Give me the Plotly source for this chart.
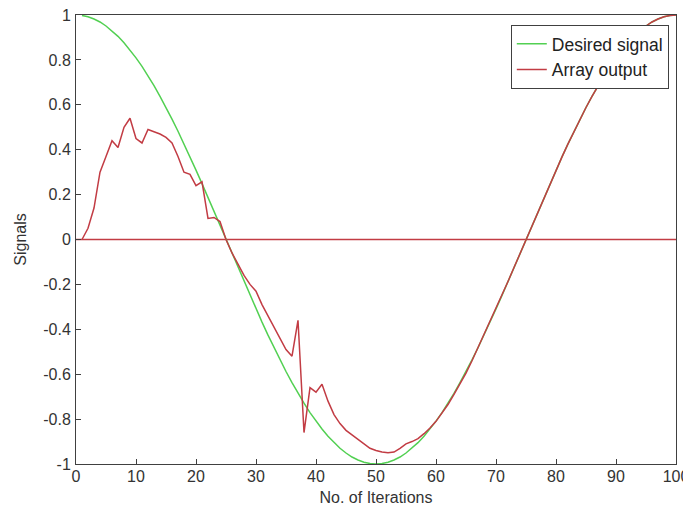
import plotly.graph_objects as go

iterations = list(range(1, 101))

desired_signal = [
    0.998, 0.992, 0.982, 0.969, 0.951, 0.930, 0.905, 0.876, 0.844, 0.809,
    0.771, 0.729, 0.685, 0.637, 0.588, 0.536, 0.482, 0.426, 0.368, 0.309,
    0.249, 0.187, 0.125, 0.063, 0.000, -0.063, -0.125, -0.187, -0.249, -0.309,
    -0.368, -0.426, -0.482, -0.536, -0.588, -0.637, -0.685, -0.729, -0.771, -0.809,
    -0.844, -0.876, -0.905, -0.930, -0.951, -0.969, -0.982, -0.992, -0.998, -1.000,
    -0.998, -0.992, -0.982, -0.969, -0.951, -0.930, -0.905, -0.876, -0.844, -0.809,
    -0.771, -0.729, -0.685, -0.637, -0.588, -0.536, -0.482, -0.426, -0.368, -0.309,
    -0.249, -0.187, -0.125, -0.063, 0.000, 0.063, 0.125, 0.187, 0.249, 0.309,
    0.368, 0.426, 0.482, 0.536, 0.588, 0.637, 0.685, 0.729, 0.771, 0.809,
    0.844, 0.876, 0.905, 0.930, 0.951, 0.969, 0.982, 0.992, 0.998, 1.000,
]

array_output = [
    0.000, 0.050, 0.140, 0.300, 0.370, 0.440, 0.410, 0.500, 0.540, 0.450,
    0.430, 0.490, 0.480, 0.470, 0.455, 0.430, 0.370, 0.300, 0.290, 0.240,
    0.257, 0.094, 0.098, 0.080, 0.000, -0.060, -0.110, -0.160, -0.200, -0.230,
    -0.290, -0.340, -0.390, -0.440, -0.490, -0.520, -0.360, -0.860, -0.660, -0.680,
    -0.645, -0.720, -0.780, -0.820, -0.850, -0.870, -0.890, -0.910, -0.930, -0.940,
    -0.947, -0.950, -0.947, -0.930, -0.910, -0.900, -0.887, -0.865, -0.840, -0.810,
    -0.771, -0.735, -0.690, -0.645, -0.595, -0.540, -0.482, -0.426, -0.368, -0.309,
    -0.249, -0.187, -0.125, -0.063, 0.000, 0.063, 0.125, 0.187, 0.249, 0.309,
    0.368, 0.426, 0.482, 0.536, 0.588, 0.637, 0.685, 0.729, 0.771, 0.809,
    0.844, 0.876, 0.905, 0.930, 0.951, 0.969, 0.982, 0.992, 0.998, 1.000,
]

zero_line_x = [0, 100]
zero_line_y = [0, 0]

x_ticks = [0, 10, 20, 30, 40, 50, 60, 70, 80, 90, 100]
y_ticks = [-1, -0.8, -0.6, -0.4, -0.2, 0, 0.2, 0.4, 0.6, 0.8, 1]
y_tick_text = ["-1", "-0.8", "-0.6", "-0.4", "-0.2", "0", "0.2", "0.4", "0.6", "0.8", "1"]

GREEN = "#52d052"
RED = "#c23c44"
FONT = "Liberation Sans, Arial"

fig = go.Figure()
fig.add_trace(go.Scatter(x=zero_line_x, y=zero_line_y, mode="lines",
                         line=dict(color=RED, width=1.5), showlegend=False, hoverinfo="skip"))
fig.add_trace(go.Scatter(x=iterations, y=desired_signal, mode="lines", name="Desired signal",
                         line=dict(color=GREEN, width=1.5)))
fig.add_trace(go.Scatter(x=iterations, y=array_output, mode="lines", name="Array output",
                         line=dict(color=RED, width=1.5)))

axis_common = dict(showline=True, mirror=True, linecolor="#404040", linewidth=1,
                   ticks="inside", ticklen=5, tickcolor="#404040", showgrid=False,
                   zeroline=False, automargin=False, ticklabeloverflow="allow",
                   tickfont=dict(family=FONT, size=16, color="#333333"))

# page body has an 8px margin, so the figure is sized to fit inside the window
fig.update_layout(
    width=683, height=502,
    margin=dict(l=68, r=15, t=7, b=46),
    paper_bgcolor="white", plot_bgcolor="white",
    font=dict(family=FONT, size=16, color="#333333"),
    xaxis=dict(range=[0, 100], tickvals=x_ticks, ticklabelstandoff=-2,
               title=dict(text="No. of Iterations", standoff=7, font=dict(size=16)), **axis_common),
    yaxis=dict(range=[-1, 1], tickvals=y_ticks, ticktext=y_tick_text, ticklabelstandoff=1,
               title=dict(text="Signals", standoff=12, font=dict(size=16)), **axis_common),
    legend=dict(x=0.988, y=0.978, xanchor="right", yanchor="top",
                bgcolor="white", bordercolor="#404040", borderwidth=1,
                font=dict(family=FONT, size=17.5, color="#222222")),
    showlegend=True,
)

fig.write_html("out.html")
